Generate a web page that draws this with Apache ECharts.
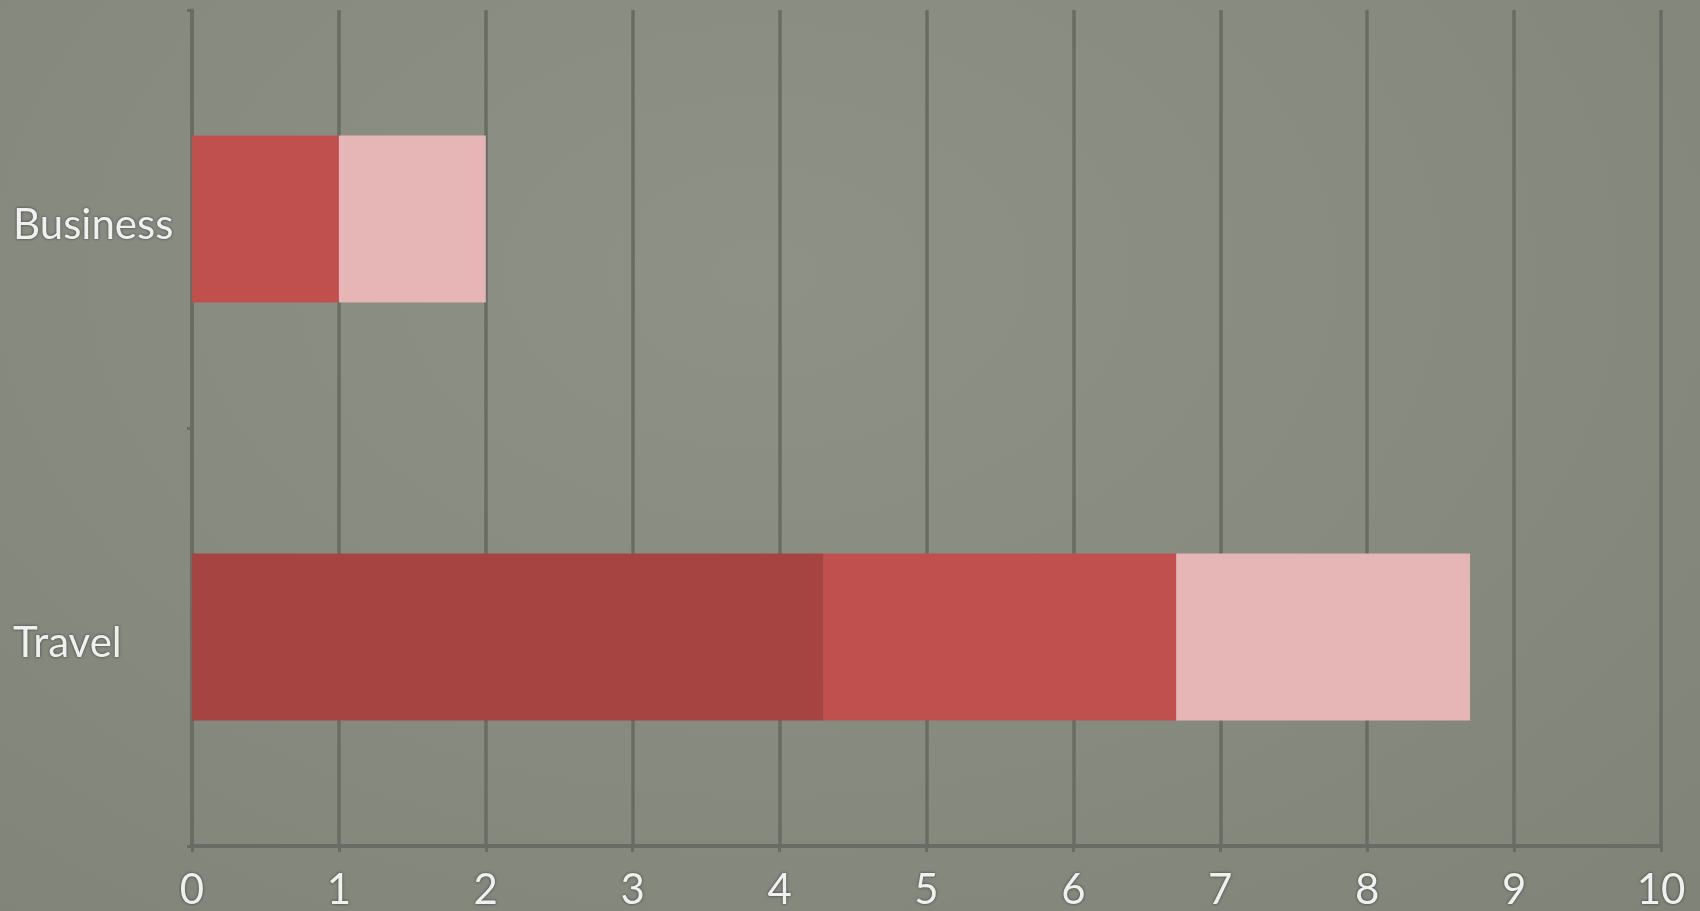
<!DOCTYPE html>
<html>
<head>
<meta charset="utf-8">
<script src="https://cdn.jsdelivr.net/npm/echarts@6/dist/echarts.min.js"></script>
<style>
  html, body { margin: 0; padding: 0; }
  body {
    width: 1700px; height: 911px; overflow: hidden;
    background: radial-gradient(ellipse at 45% 30%, #8e9286 0%, #878b7f 55%, #7f8378 100%);
  }
  #chart { width: 1700px; height: 911px; }
</style>
</head>
<body>
<div id="chart"></div>
<script>
var categories = ['Business', 'Travel'];
var darkValues = [0, 4.3];
var midValues = [1, 2.4];
var lightValues = [1, 2.0];
var xTicks = [0, 1, 2, 3, 4, 5, 6, 7, 8, 9, 10];

var lineColor = '#696c64';
var labelStyle = {
    color: '#f0f0f0',
    fontFamily: 'Lato',
    fontSize: 42,
    textShadowColor: 'rgba(50,52,48,0.9)',
    textShadowBlur: 3
};

var option = {
    backgroundColor: 'transparent',
    animation: false,
    grid: { left: 192, right: 39, top: 10, bottom: 65, outerBoundsMode: 'none' },
    xAxis: {
        type: 'value',
        min: xTicks[0],
        max: xTicks[xTicks.length - 1],
        interval: 1,
        axisLine: { show: true, lineStyle: { color: lineColor, width: 4 } },
        axisTick: { show: true, length: 6, lineStyle: { color: lineColor, width: 3 } },
        splitLine: { show: true, lineStyle: { color: lineColor, width: 3.5 } },
        axisLabel: Object.assign({ margin: 23 }, labelStyle)
    },
    yAxis: {
        type: 'category',
        data: categories,
        inverse: true,
        axisLine: { show: true, lineStyle: { color: lineColor, width: 3.5 } },
        axisTick: { show: true, length: 5, lineStyle: { color: lineColor, width: 3 } },
        axisLabel: Object.assign({
            margin: 179,
            align: 'left',
            formatter: function (v) { return '{t|' + v + '}'; },
            rich: { t: Object.assign({ padding: [12, 0, 0, 0] }, labelStyle) }
        }, labelStyle)
    },
    series: [
        { name: 'dark', type: 'bar', stack: 'total', barCategoryGap: '60%', data: darkValues,
          itemStyle: { color: '#a54441' } },
        { name: 'mid', type: 'bar', stack: 'total', data: midValues,
          itemStyle: { color: '#c0504d' } },
        { name: 'light', type: 'bar', stack: 'total', data: lightValues,
          itemStyle: { color: '#e6b5b6' } }
    ]
};

var myChart = echarts.init(document.getElementById('chart'));
myChart.setOption(option, true);
</script>
</body>
</html>
